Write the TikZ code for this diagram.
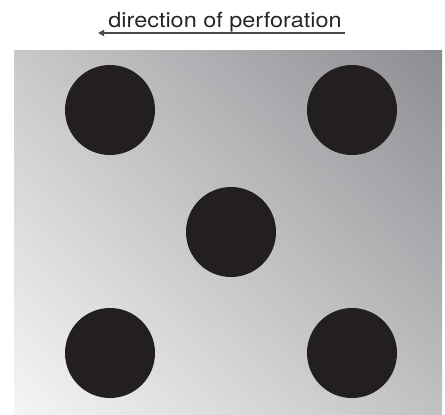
\documentclass[tikz,border=0pt]{standalone}
\usepackage{fontspec}
\setmainfont{TeX Gyre Heros}
\usetikzlibrary{arrows.meta,shadings}
\definecolor{hole}{HTML}{231F20}
\definecolor{arrowgray}{HTML}{4A4A4A}
\definecolor{gLL}{RGB}{245,245,246}
\definecolor{gUR}{RGB}{140,141,144}
\definecolor{gUL}{RGB}{200,201,203}
\definecolor{gLR}{RGB}{192,193,195}
\tikzset{
  hole/.style={circle, fill=hole, draw=none, minimum size=90bp, inner sep=0pt},
  dirarrow/.style={draw=arrowgray, line width=1.8bp, -{Triangle[length=6bp,width=6bp]}},
  label/.style={inner sep=0pt, anchor=base, font=\fontsize{21}{24}\selectfont, text=black!85}
}
\begin{document}
\begin{tikzpicture}[x=1bp,y=-1bp]
\useasboundingbox (0,0) rectangle (445,414);
\shade[lower left=gLL, upper right=gUR, upper left=gUL, lower right=gLR]
  (14,50) rectangle (442,414);
\node[hole] (h1) at (110,110) {};
\node[hole] (h2) at (352,110) {};
\node[hole] (h3) at (231,232) {};
\node[hole] (h4) at (110,353) {};
\node[hole] (h5) at (352,353) {};
\node[label, xscale=1.12] (t) at (225,27) {direction of perforation};
\coordinate (a1) at (345,33);
\coordinate (a2) at (98,33);
\draw[dirarrow] (a1) -- (a2);
\end{tikzpicture}
\end{document}
